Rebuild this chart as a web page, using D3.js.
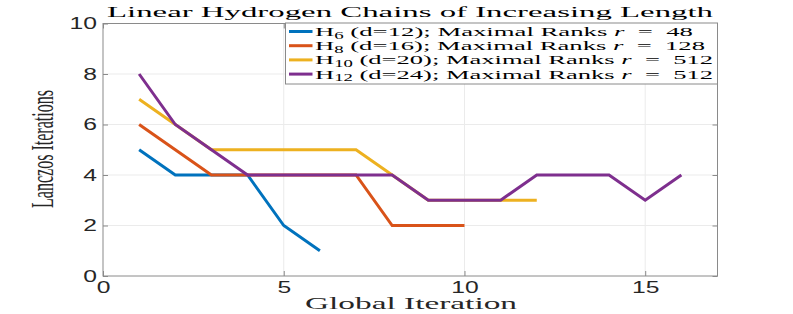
<!DOCTYPE html>
<html>
<head>
<meta charset="utf-8">
<script src="https://cdn.jsdelivr.net/npm/d3@7"></script>
<style>
  body { margin: 0; background: #fff; }
  svg { display: block; }
</style>
</head>
<body>
<svg id="chart" width="793" height="314"></svg>
<script>
// data
const globalIter = [1, 2, 3, 4, 5, 6, 7, 8, 9, 10, 11, 12, 13, 14, 15, 16];
const h6Iters  = [5, 4, 4, 4, 2, 1];
const h8Iters  = [6, 5, 4, 4, 4, 4, 4, 2, 2, 2];
const h10Iters = [7, 6, 5, 5, 5, 5, 5, 4, 3, 3, 3, 3];
const h12Iters = [8, 6, 5, 4, 4, 4, 4, 4, 3, 3, 3, 4, 4, 4, 3, 4];

const atomSub = ["6", "8", "10", "12"];
const dims    = [12, 16, 20, 24];
const ranks   = [48, 128, 512, 512];
const colours = ["#0072BD", "#D95319", "#EDB120", "#7E2F8E"];

const xTicks = [0, 5, 10, 15];
const yTicks = [0, 2, 4, 6, 8, 10];

const series = [h6Iters, h8Iters, h10Iters, h12Iters].map((vals, i) => ({
    colour: colours[i],
    points: vals.map((v, j) => ({ x: globalIter[j], y: v }))
}));

let svg = d3.select("#chart");

// plot box
const plotL = 103, plotR = 717.5, plotT = 23.5, plotB = 276;

let x = d3.scaleLinear().domain([0, 17]).range([plotL, plotR]);
let y = d3.scaleLinear().domain([0, 10]).range([plotB, plotT]);

const axisGrey = "#8a8a8a";
const serif = "'Liberation Serif', 'Times New Roman', serif";

// stretch text horizontally, the picture is wide
function stretch(sel, k) {
    sel.each(function() {
        let w = this.getComputedTextLength();
        d3.select(this).attr("textLength", w * k).attr("lengthAdjust", "spacingAndGlyphs");
    });
}

// grid
let grid = svg.append("g").attr("stroke", "#ebebeb").attr("stroke-width", 1);
grid.selectAll(".gx").data(xTicks.filter(d => d > 0)).enter().append("line")
    .attr("x1", d => x(d)).attr("x2", d => x(d))
    .attr("y1", plotT).attr("y2", plotB);
grid.selectAll(".gy").data(yTicks.filter(d => d > 0 && d < 10)).enter().append("line")
    .attr("x1", plotL).attr("x2", plotR)
    .attr("y1", d => y(d)).attr("y2", d => y(d));

// axes (ticks inward)
let xAxis = svg.append("g")
    .attr("transform", `translate(0,${plotB})`)
    .call(d3.axisBottom(x).tickValues(xTicks).tickSize(-5).tickPadding(4.5));
let yAxis = svg.append("g")
    .attr("transform", `translate(${plotL},0)`)
    .call(d3.axisLeft(y).tickValues(yTicks).tickSize(-5).tickPadding(6));
svg.append("g")
    .attr("transform", `translate(0,${plotT})`)
    .call(d3.axisTop(x).tickValues(xTicks).tickSize(-5).tickFormat(""));
svg.append("g")
    .attr("transform", `translate(${plotR},0)`)
    .call(d3.axisRight(y).tickValues(yTicks).tickSize(-5).tickFormat(""));

svg.selectAll(".domain").remove();
svg.selectAll(".tick line").attr("stroke", axisGrey);

[xAxis, yAxis].forEach(a => {
    a.selectAll("text")
        .attr("fill", "#262626")
        .style("font-family", "'Liberation Sans', Arial, sans-serif")
        .style("font-size", "17px");
});
stretch(xAxis.selectAll("text"), 1.45);
stretch(yAxis.selectAll("text"), 1.45);

svg.append("rect")
    .attr("x", plotL).attr("y", plotT)
    .attr("width", plotR - plotL).attr("height", plotB - plotT)
    .attr("fill", "none").attr("stroke", axisGrey).attr("stroke-width", 1);

// lines
let line = d3.line().x(d => x(d.x)).y(d => y(d.y));
svg.append("g").selectAll("path")
    .data(series)
    .enter().append("path")
    .attr("d", d => line(d.points))
    .attr("fill", "none")
    .attr("stroke", d => d.colour)
    .attr("stroke-width", 3);

// title + axis labels
svg.append("text")
    .attr("x", 410).attr("y", 17)
    .attr("text-anchor", "middle")
    .attr("textLength", 606).attr("lengthAdjust", "spacingAndGlyphs")
    .style("font-family", serif).style("font-size", "15px")
    .attr("fill", "#000")
    .text("Linear Hydrogen Chains of Increasing Length");

svg.append("text")
    .attr("x", 411).attr("y", 309)
    .attr("text-anchor", "middle")
    .attr("textLength", 212).attr("lengthAdjust", "spacingAndGlyphs")
    .style("font-family", serif).style("font-size", "16px")
    .attr("fill", "#262626")
    .text("Global Iteration");

// y label: tall thin glyphs -> scale across the text direction
let yLab = svg.append("text")
    .attr("text-anchor", "middle")
    .style("font-family", serif).style("font-size", "16px")
    .attr("fill", "#262626")
    .text("Lanczos Iterations");
let yLabW = yLab.node().getComputedTextLength();
yLab.attr("transform", `translate(53,149) rotate(-90) scale(${118 / yLabW},1.95)`);

// legend
const legX = 285.5, legY = 23, legW = 432, legH = 61;
const rowWidths = [378, 390, 398, 398];
let legend = svg.append("g");
legend.append("rect")
    .attr("x", legX).attr("y", legY).attr("width", legW).attr("height", legH)
    .attr("fill", "#fff").attr("stroke", axisGrey).attr("stroke-width", 1);

let rows = legend.selectAll(".row")
    .data(series)
    .enter().append("g")
    .attr("transform", (d, i) => `translate(0,${36 + i * 14.2})`);

rows.append("line")
    .attr("x1", 289).attr("x2", 312.5)
    .attr("y1", -4.5).attr("y2", -4.5)
    .attr("stroke", d => d.colour).attr("stroke-width", 3);

rows.each(function(d, i) {
    let t = d3.select(this).append("text")
        .attr("x", 315).attr("y", 0)
        .attr("textLength", rowWidths[i]).attr("lengthAdjust", "spacingAndGlyphs")
        .style("font-family", serif).style("font-size", "13.5px")
        .attr("fill", "#000");
    t.append("tspan").text("H");
    t.append("tspan").attr("dy", 2.5).style("font-size", "9.5px").text(atomSub[i]);
    t.append("tspan").attr("dy", -2.5).text(` (d=${dims[i]}); Maximal Ranks `);
    t.append("tspan").style("font-style", "italic").text("r");
    t.append("tspan").text(`\u00a0\u00a0=\u00a0\u00a0${ranks[i]}`);
});
</script>
</body>
</html>
